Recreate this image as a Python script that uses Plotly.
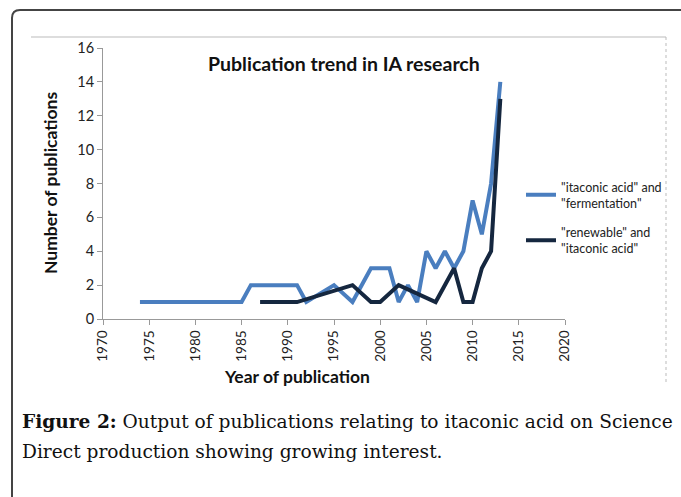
import plotly.graph_objects as go

# Publications per year: "itaconic acid" and "fermentation"
years_ferm = [1974, 1985, 1986, 1991, 1992, 1995, 1997, 1999, 2001, 2002, 2003,
              2004, 2005, 2006, 2007, 2008, 2009, 2010, 2011, 2012, 2013]
count_ferm = [1, 1, 2, 2, 1, 2, 1, 3, 3, 1, 2, 1, 4, 3, 4, 3, 4, 7, 5, 8, 14]

# Publications per year: "renewable" and "itaconic acid"
years_renew = [1987, 1991, 1997, 1999, 2000, 2002, 2006, 2008, 2009, 2010, 2011, 2012, 2013]
count_renew = [1, 1, 2, 1, 1, 2, 1, 3, 1, 1, 3, 4, 13]

label_ferm = '"itaconic acid" and<br>"fermentation"'
label_renew = '"renewable" and<br>"itaconic acid"'

caption_lines = [
    "<b>Figure 2:</b> Output of publications relating to itaconic acid on Science",
    "Direct production showing growing interest.",
]

x_ticks = list(range(1970, 2021, 5))
y_ticks = list(range(0, 17, 2))

W, H = 681, 497
L, R, T, B = 103, 116, 48, 178
PW, PH = W - L - R, H - T - B


def px(x):
    return (x - L) / PW


def py(y):
    return (H - B - y) / PH


SANS = "Lato, 'Open Sans', sans-serif"
SERIF = "'DejaVu Serif', 'Liberation Serif', serif"

fig = go.Figure()
fig.add_trace(go.Scatter(x=years_ferm, y=count_ferm, mode="lines", name=label_ferm,
                         legendgroup="ferm",
                         line=dict(color="#4A7EBF", width=4)))
fig.add_trace(go.Scatter(x=years_renew, y=count_renew, mode="lines", name=label_renew,
                         legendgroup="renew",
                         line=dict(color="#15273F", width=4)))

axis_common = dict(showgrid=False, zeroline=False, showline=True, linecolor="#999999",
                   linewidth=1, ticks="outside", ticklen=5, tickcolor="#999999")

fig.update_xaxes(range=[1970, 2020], tickvals=x_ticks, tickangle=-90,
                 tickfont=dict(family=SANS, size=13.5, color="#222222"),
                 **axis_common)
fig.update_yaxes(range=[0, 16], tickvals=y_ticks,
                 tickfont=dict(family=SANS, size=14.5, color="#222222"),
                 **axis_common)

shapes = [
    # outer rounded frame (top and left edges)
    dict(type="path", xref="paper", yref="paper",
         path=(f"M {px(12)} {py(497)} L {px(12)} {py(18)} "
               f"Q {px(12)} {py(10)} {px(20)} {py(10)} L {px(681)} {py(10)}"),
         line=dict(color="#444444", width=2)),
    # chart box top edge
    dict(type="line", xref="paper", yref="paper", x0=px(31), x1=px(666), y0=py(37), y1=py(37),
         line=dict(color="#BBBBBB", width=1)),
    # chart box right edge (dotted)
    dict(type="line", xref="paper", yref="paper", x0=px(666), x1=px(666), y0=py(37), y1=py(383),
         line=dict(color="#BBBBBB", width=1, dash="dot")),
]

annotations = [
    dict(text="<b>Publication trend in IA research</b>", xref="paper", yref="paper",
         x=px(344), y=py(64), xanchor="center", yanchor="middle", showarrow=False,
         font=dict(family=SANS, size=19.5, color="#111111")),
    dict(text="<b>Year of publication</b>", xref="paper", yref="paper",
         x=px(297), y=py(376), xanchor="center", yanchor="middle", showarrow=False,
         font=dict(family=SANS, size=17.5, color="#111111")),
    dict(text="<b>Number of publications</b>", xref="paper", yref="paper",
         x=px(50), y=py(183), xanchor="center", yanchor="middle", showarrow=False,
         textangle=-90,
         font=dict(family=SANS, size=17.5, color="#111111")),
]
for line_text, y_mid in zip(caption_lines, [421, 451]):
    annotations.append(dict(text=line_text, xref="paper", yref="paper",
                            x=px(20), y=py(y_mid), xanchor="left", yanchor="middle",
                            align="left", showarrow=False,
                            font=dict(family=SERIF, size=18.6, color="#111111")))

fig.update_layout(
    width=W, height=H,
    margin=dict(l=L, r=R, t=T, b=B, autoexpand=False),
    paper_bgcolor="white", plot_bgcolor="white",
    showlegend=True,
    legend=dict(x=px(521), y=py(172), xanchor="left", yanchor="top",
                bgcolor="rgba(0,0,0,0)", tracegroupgap=10,
                font=dict(family=SANS, size=12.5, color="#222222")),
    shapes=shapes, annotations=annotations,
)

fig.write_html("out.html")
